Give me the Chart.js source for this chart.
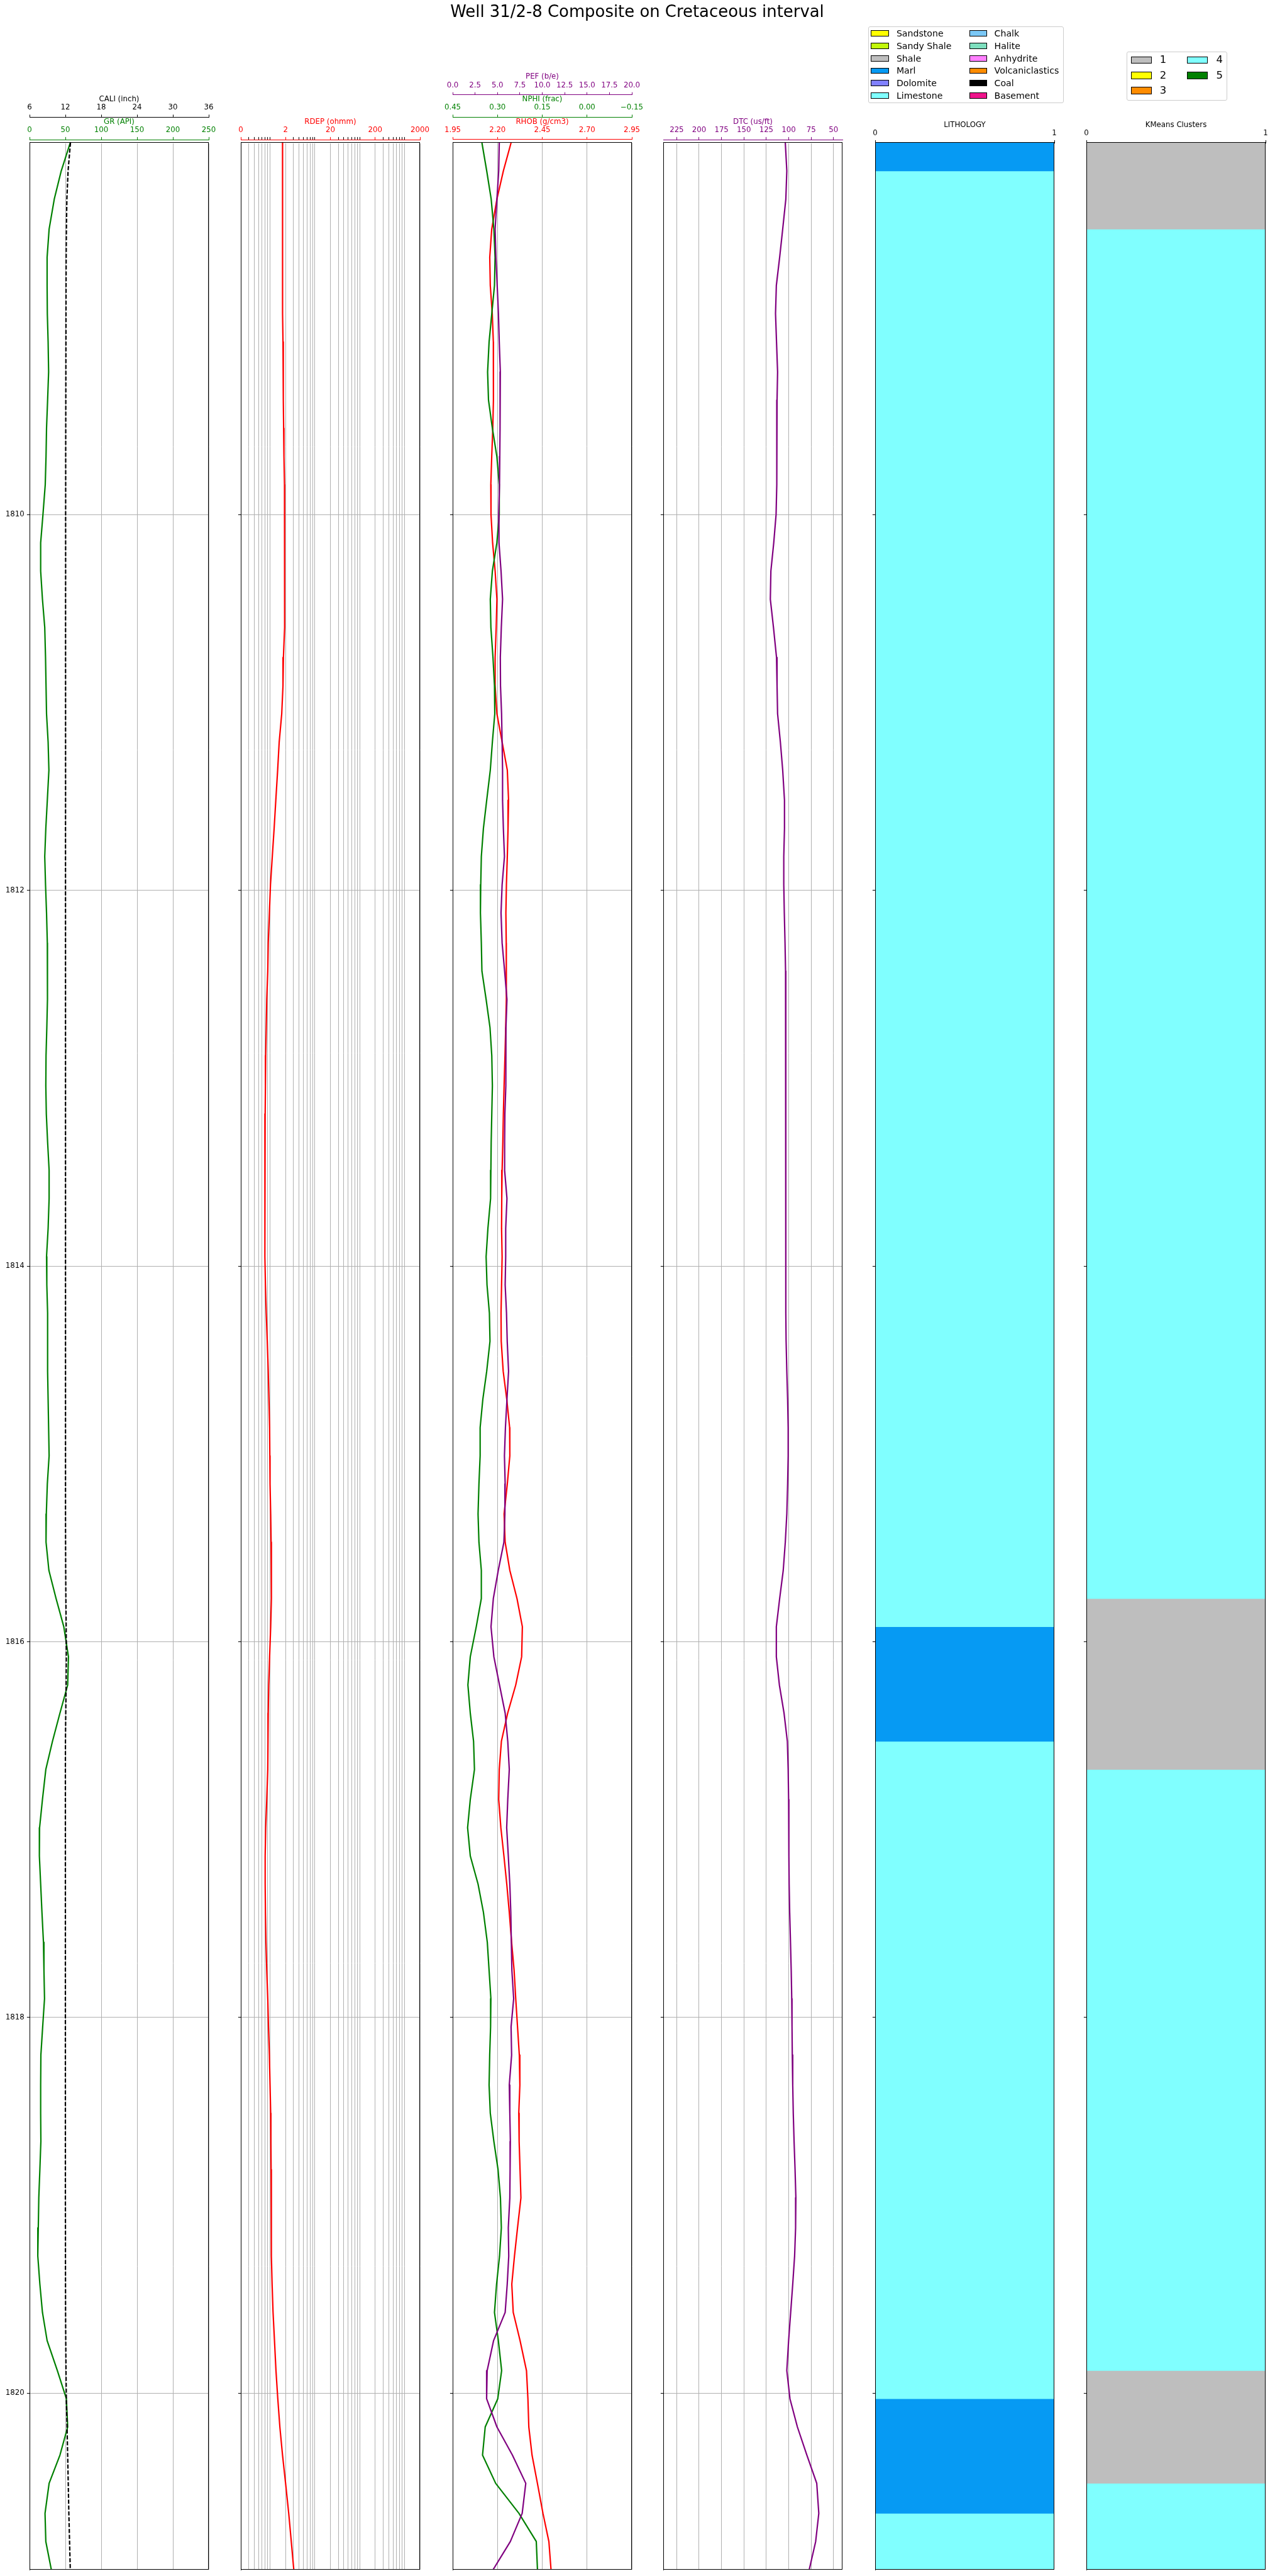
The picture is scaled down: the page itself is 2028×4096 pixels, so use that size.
<!DOCTYPE html>
<html>
<head>
<meta charset="utf-8">
<title>Well 31/2-8 Composite on Cretaceous interval</title>
<script src="https://cdn.jsdelivr.net/npm/chart.js@4.4.1/dist/chart.umd.min.js"></script>
<style>
  html, body { margin:0; padding:0; background:#fff; overflow:hidden; }
  #page { position:relative; width:2028px; height:4096px; overflow:hidden; background:#fff; font-family:'DejaVu Sans', sans-serif; color:#000; }
  #page canvas { position:absolute; top:0; }
  .txt { position:absolute; white-space:nowrap; line-height:1; font-family:'DejaVu Sans', sans-serif; color:#000; }
  .legend { position:absolute; box-sizing:border-box; border:1px solid #cccccc; border-radius:3px; background:rgba(255,255,255,0.8); }
  .patch { position:absolute; box-sizing:border-box; border:1px solid #000; }
</style>
</head>
<body>
<div id="page"></div>
<script>
// ---------------- DATA ----------------
const depth = [1808.02,1808.17,1808.32,1808.48,1808.63,1808.78,1808.93,1809.08,1809.24,1809.39,
  1809.54,1809.69,1809.84,1810.00,1810.15,1810.30,1810.45,1810.60,1810.76,1810.91,
  1811.06,1811.21,1811.36,1811.52,1811.67,1811.82,1811.97,1812.12,1812.28,1812.43,
  1812.58,1812.73,1812.88,1813.04,1813.19,1813.34,1813.49,1813.64,1813.80,1813.95,
  1814.10,1814.25,1814.40,1814.56,1814.71,1814.86,1815.01,1815.16,1815.32,1815.47,
  1815.62,1815.77,1815.92,1816.08,1816.23,1816.38,1816.53,1816.68,1816.84,1816.99,
  1817.14,1817.29,1817.44,1817.60,1817.75,1817.90,1818.05,1818.20,1818.36,1818.51,
  1818.66,1818.81,1818.96,1819.12,1819.27,1819.42,1819.57,1819.72,1819.88,1820.03,
  1820.18,1820.33,1820.48,1820.64,1820.79,1820.94];

const gr = [56.8,44.2,34.5,27.3,24.5,24.5,24.8,25.9,26.6,25.2,
  23.7,23.0,21.9,18.7,15.5,15.5,18.0,21.2,22.3,23.0,
  23.7,25.9,27.0,24.8,22.7,21.2,22.3,23.7,24.8,25.2,
  24.8,24.1,23.0,22.7,23.4,25.2,27.3,27.3,25.9,23.7,
  24.1,25.2,25.2,25.2,25.9,26.6,27.3,24.8,23.4,23.0,
  27.0,37.0,47.8,54.3,53.2,42.4,32.0,22.7,18.0,14.0,
  13.7,15.5,17.3,19.4,20.1,20.9,18.3,15.8,15.5,15.5,
  15.8,14.4,12.9,12.2,11.5,14.4,18.0,24.5,38.8,51.4,
  53.2,42.4,27.3,21.6,22.7,30.4];

const cali = [12.85,12.45,12.25,12.17,12.13,12.11,12.10,12.09,12.08,12.07,
  12.06,12.05,12.05,12.04,12.04,12.04,12.03,12.03,12.03,12.03,
  12.03,12.03,12.03,12.03,12.02,12.02,12.02,12.02,12.02,12.02,
  12.02,12.02,12.02,12.02,12.02,12.02,12.02,12.02,12.02,12.02,
  12.02,12.02,12.02,12.02,12.02,12.02,12.02,12.02,12.02,12.03,
  12.05,12.08,12.13,12.16,12.12,12.06,12.01,12.00,12.00,12.00,
  12.00,12.00,12.00,12.00,12.00,12.00,12.00,12.00,12.00,12.00,
  12.00,12.00,12.00,12.01,12.01,12.02,12.03,12.06,12.10,12.16,
  12.28,12.38,12.48,12.58,12.70,12.82];

const rdep = [1.71,1.71,1.71,1.71,1.71,1.71,1.73,1.75,1.77,1.79,
  1.81,1.84,1.89,1.92,1.92,1.92,1.89,1.87,1.79,1.75,
  1.64,1.44,1.33,1.21,1.11,1.01,0.92,0.87,0.82,0.80,
  0.76,0.74,0.72,0.71,0.70,0.69,0.69,0.69,0.69,0.69,
  0.71,0.74,0.78,0.82,0.85,0.88,0.89,0.90,0.93,0.95,
  0.97,0.96,0.93,0.88,0.84,0.82,0.81,0.80,0.76,0.72,
  0.70,0.70,0.71,0.73,0.76,0.80,0.83,0.87,0.90,0.93,
  0.94,0.95,0.96,0.96,0.97,1.00,1.05,1.13,1.22,1.34,
  1.49,1.71,2.00,2.35,2.68,3.05];

const rhob = [2.276,2.233,2.197,2.168,2.157,2.160,2.171,2.177,2.178,2.177,
  2.174,2.168,2.163,2.164,2.173,2.187,2.197,2.193,2.187,2.187,
  2.197,2.226,2.255,2.262,2.259,2.255,2.250,2.247,2.249,2.250,
  2.249,2.246,2.242,2.237,2.233,2.230,2.226,2.224,2.223,2.226,
  2.223,2.220,2.221,2.232,2.252,2.268,2.269,2.255,2.237,2.243,
  2.269,2.309,2.339,2.335,2.302,2.257,2.222,2.210,2.207,2.219,
  2.236,2.252,2.266,2.279,2.293,2.302,2.312,2.322,2.325,2.319,
  2.321,2.326,2.331,2.312,2.295,2.280,2.288,2.326,2.362,2.370,
  2.375,2.393,2.423,2.454,2.487,2.499];

const nphi = [0.352,0.336,0.321,0.312,0.308,0.310,0.319,0.328,0.333,0.330,
  0.317,0.302,0.294,0.294,0.302,0.317,0.324,0.322,0.315,0.310,
  0.309,0.317,0.324,0.336,0.347,0.354,0.356,0.357,0.354,0.352,
  0.338,0.325,0.319,0.317,0.319,0.321,0.322,0.323,0.332,0.338,
  0.335,0.327,0.325,0.336,0.349,0.358,0.358,0.362,0.365,0.362,
  0.354,0.354,0.371,0.391,0.399,0.391,0.380,0.377,0.391,0.400,
  0.391,0.365,0.347,0.334,0.328,0.322,0.323,0.326,0.328,0.324,
  0.312,0.298,0.290,0.287,0.293,0.303,0.310,0.297,0.286,0.299,
  0.341,0.350,0.306,0.228,0.170,0.166];

const pef = [5.20,5.14,4.94,4.74,4.83,4.97,5.11,5.20,5.32,5.29,
  5.29,5.26,5.23,5.14,5.17,5.40,5.57,5.43,5.32,5.34,
  5.46,5.52,5.57,5.57,5.66,5.78,5.52,5.40,5.52,5.80,
  6.06,5.95,5.95,5.92,5.83,5.80,5.80,6.06,5.92,5.92,
  5.86,6.01,6.09,6.24,6.06,5.89,5.78,5.86,5.83,5.72,
  5.09,4.54,4.28,4.60,5.23,5.86,6.15,6.32,6.15,6.03,
  6.21,6.38,6.49,6.55,6.61,6.81,6.52,6.58,6.32,6.38,
  6.44,6.41,6.38,6.21,6.26,6.09,5.86,4.57,3.85,3.79,
  4.94,6.67,8.16,7.76,6.44,4.51];

const dtc = [103.8,102.1,103.2,106.7,110.1,113.8,114.7,113.6,112.4,113.0,
  113.6,113.3,113.0,114.1,116.7,119.9,120.5,117.0,113.6,113.0,
  112.4,109.3,106.7,104.7,104.7,105.5,105.5,104.9,104.1,103.5,
  103.5,103.2,103.2,103.2,103.2,103.2,103.2,103.2,103.2,103.2,
  103.2,103.2,102.9,102.1,101.2,100.6,100.6,101.2,102.1,103.8,
  106.1,110.1,113.8,113.8,110.4,105.2,101.5,100.6,100.1,99.8,
  99.8,99.5,98.9,98.0,97.2,96.6,96.3,96.0,95.5,94.9,
  94.0,92.9,92.0,92.3,93.4,95.5,97.8,100.1,102.1,98.6,
  90.3,79.7,68.7,66.4,69.9,77.1];

// lithology intervals (top, base, name)
const lithTop  = [1808.02, 1808.17, 1815.92, 1816.53, 1820.03, 1820.64];
const lithBase = [1808.17, 1815.92, 1816.53, 1820.03, 1820.64, 1820.94];
const lithName = ['Marl', 'Limestone', 'Marl', 'Limestone', 'Marl', 'Limestone'];

// KMeans cluster intervals (top, base, cluster)
const kmTop     = [1808.02, 1808.48, 1815.77, 1816.68, 1819.88, 1820.48];
const kmBase    = [1808.48, 1815.77, 1816.68, 1819.88, 1820.48, 1820.94];
const kmCluster = ['1', '4', '1', '4', '1', '4'];

// tick values and labels
const depthTicks = [1810, 1812, 1814, 1816, 1818, 1820];
const depthTickLabels = ['1810', '1812', '1814', '1816', '1818', '1820'];
const grTicks = [0, 50, 100, 150, 200, 250];
const grTickLabels = ['0', '50', '100', '150', '200', '250'];
const caliTicks = [6, 12, 18, 24, 30, 36];
const caliTickLabels = ['6', '12', '18', '24', '30', '36'];
const rdepMajorTicks = [0.2, 2, 20, 200, 2000];
const rdepMajorLabels = ['0', '2', '20', '200', '2000'];
const rdepMinorTicks = [0.3,0.4,0.5,0.6,0.7,0.8,0.9, 3,4,5,6,7,8,9, 30,40,50,60,70,80,90, 300,400,500,600,700,800,900];
const rhobTicks = [1.95, 2.20, 2.45, 2.70, 2.95];
const rhobTickLabels = ['1.95', '2.20', '2.45', '2.70', '2.95'];
const nphiTicks = [0.45, 0.30, 0.15, 0.00, -0.15];
const nphiTickLabels = ['0.45', '0.30', '0.15', '0.00', '\u22120.15'];
const pefTicks = [0, 2.5, 5, 7.5, 10, 12.5, 15, 17.5, 20];
const pefTickLabels = ['0.0', '2.5', '5.0', '7.5', '10.0', '12.5', '15.0', '17.5', '20.0'];
const dtcTicks = [225, 200, 175, 150, 125, 100, 75, 50];
const dtcTickLabels = ['225', '200', '175', '150', '125', '100', '75', '50'];
const unitTicks = [0, 1];
const unitTickLabels = ['0', '1'];

const lithLegendNames = ['Sandstone', 'Sandy Shale', 'Shale', 'Marl', 'Dolomite', 'Limestone',
  'Chalk', 'Halite', 'Anhydrite', 'Volcaniclastics', 'Coal', 'Basement'];
const clusterLegendNames = ['1', '2', '3', '4', '5'];

// ---------------- STYLE / LAYOUT ----------------
const LITH_COLORS = {
  'Sandstone': '#ffff00', 'Sandy Shale': '#c1f80a', 'Shale': '#bebebe', 'Marl': '#069af3',
  'Dolomite': '#8080ff', 'Limestone': '#80ffff', 'Chalk': '#7bc8f6', 'Halite': '#7ddfbe',
  'Anhydrite': '#ff80ff', 'Volcaniclastics': '#ff8c00', 'Coal': '#000000', 'Basement': '#ef138a'
};
const CLUSTER_COLORS = {'1': '#bebebe', '2': '#ffff00', '3': '#ff8c00', '4': '#80ffff', '5': '#008000'};

const FAMILY = "'DejaVu Sans', sans-serif";
const TICK_FONT = {family: FAMILY, size: 11.78, lineHeight: 1.2};
const GRID = '#b0b0b0';
const GREEN = '#008000', RED = '#ff0000', PURPLE = '#800080', BLACK = '#000000';
const TICK_LEN = 4.1, TICK_PAD = 4.1, AX_H = 35.6, GAP_H = 5;
const CHART_TOP = 227, CHART_BOTTOM = 4086;
const TRACK_LEFT = [47, 383, 720, 1055, 1392, 1728], TRACK_W = 285;
const PAD_SIDE = 40, PAD_BOTTOM = 14;
const LINE_W = 2.2;

const page = document.getElementById('page');
const depthMin = Math.min(...depth), depthMax = Math.max(...depth);

const framePlugin = {
  id: 'frame',
  afterDatasetsDraw(chart) {
    const a = chart.chartArea, ctx = chart.ctx;
    ctx.save();
    ctx.strokeStyle = BLACK;
    ctx.lineWidth = 1;
    const l = Math.round(a.left) + 0.5, t = Math.round(a.top) - 0.5;
    const r = Math.round(a.right) - 0.5, b = Math.round(a.bottom) - 0.5;
    ctx.strokeRect(l, t, r - l, b - t);
    ctx.restore();
  }
};

function depthAxis(showLabels, yW) {
  return {
    type: 'linear', axis: 'y', position: 'left', reverse: true, bounds: 'data',
    min: depthMin, max: depthMax, beginAtZero: false,
    afterBuildTicks: s => { s.ticks = depthTicks.map(v => ({value: v})); },
    afterFit: s => { s.width = yW; },
    grid: {display: true, drawOnChartArea: true, drawTicks: true, color: GRID, lineWidth: 1,
           tickLength: TICK_LEN, tickColor: BLACK, tickWidth: 1},
    border: {display: true, color: BLACK, width: 1},
    ticks: {display: showLabels, padding: TICK_PAD, color: BLACK, font: TICK_FONT,
            autoSkip: false, callback: (v, i) => depthTickLabels[i]}
  };
}

function spacerAxis() {
  return {
    type: 'linear', axis: 'x', position: 'top', weight: 0, display: true, min: 0, max: 1,
    grid: {display: false}, border: {display: false}, ticks: {display: false}, title: {display: false},
    afterFit: s => { s.height = GAP_H; }
  };
}

function curveAxis(o) {
  return {
    type: o.type || 'linear', axis: 'x', position: 'top', weight: o.weight, offset: false,
    min: o.min, max: o.max, reverse: !!o.reverse, bounds: 'data', beginAtZero: false,
    afterBuildTicks: s => { s.ticks = o.ticks.map(v => ({value: v})); },
    afterFit: s => { s.height = AX_H; },
    grid: {display: true, drawOnChartArea: !!o.grid, drawTicks: true, tickLength: TICK_LEN,
           color: GRID, lineWidth: 1, tickColor: o.tickColor || o.color, tickWidth: 1, offset: false},
    border: {display: true, color: o.color, width: 1},
    ticks: {display: true, autoSkip: false, maxRotation: 0, minRotation: 0, padding: TICK_PAD,
            color: o.color, font: TICK_FONT, callback: o.callback || ((v, i) => o.labels[i])},
    title: {display: true, text: o.title, color: o.color, font: TICK_FONT, padding: 0}
  };
}

function curve(values, axisId, color, dash) {
  return {
    data: depth.map((d, i) => ({x: values[i], y: d})),
    xAxisID: axisId, yAxisID: 'y', showLine: true,
    borderColor: color, backgroundColor: color, borderWidth: LINE_W,
    borderDash: dash || [], borderJoinStyle: 'round',
    pointRadius: 0, pointHoverRadius: 0, fill: false, tension: 0
  };
}

function makeCanvas(idx) {
  const c = document.createElement('canvas');
  const w = PAD_SIDE * 2 + TRACK_W, h = CHART_BOTTOM + PAD_BOTTOM;
  c.width = w; c.height = h;
  c.style.left = (TRACK_LEFT[idx] - PAD_SIDE) + 'px';
  c.style.width = w + 'px'; c.style.height = h + 'px';
  page.appendChild(c);
  return c;
}

function buildTrack(idx, cfg) {
  const yW = cfg.depthLabels ? 38 : 10;
  const scales = Object.assign({y: depthAxis(!!cfg.depthLabels, yW)}, cfg.scales);
  return new Chart(makeCanvas(idx), {
    type: cfg.type,
    data: {labels: cfg.labels, datasets: cfg.datasets},
    options: {
      responsive: false, maintainAspectRatio: false, animation: false, devicePixelRatio: 1,
      events: [],
      layout: {padding: {left: PAD_SIDE - yW, right: PAD_SIDE, top: CHART_TOP - cfg.headerHeight, bottom: PAD_BOTTOM}, autoPadding: false},
      plugins: {legend: {display: false}, tooltip: {enabled: false}, title: {display: false}},
      scales
    },
    plugins: [framePlugin]
  });
}

// ---------------- TRACK 1 : GR + CALI ----------------
buildTrack(0, {
  type: 'scatter', depthLabels: true, headerHeight: GAP_H + 2 * AX_H,
  scales: {
    pad: spacerAxis(),
    gr: curveAxis({weight: 1, min: 0, max: 250, ticks: grTicks, labels: grTickLabels, color: GREEN, title: 'GR (API)', grid: true}),
    cali: curveAxis({weight: 2, min: 6, max: 36, ticks: caliTicks, labels: caliTickLabels, color: BLACK, title: 'CALI (inch)', grid: false})
  },
  datasets: [curve(cali, 'cali', BLACK, [6.5, 2.8]), curve(gr, 'gr', GREEN)]
});

// ---------------- TRACK 2 : RDEP ----------------
const rdepAllTicks = rdepMajorTicks.concat(rdepMinorTicks).sort((a, b) => a - b);
buildTrack(1, {
  type: 'scatter', headerHeight: GAP_H + AX_H,
  scales: {
    pad: spacerAxis(),
    rdep: curveAxis({type: 'logarithmic', weight: 1, min: 0.2, max: 2000, ticks: rdepAllTicks, color: RED,
      title: 'RDEP (ohmm)', grid: true,
      tickColor: ctx => (ctx.tick && rdepMajorTicks.indexOf(ctx.tick.value) >= 0) ? RED : BLACK,
      callback: v => { const k = rdepMajorTicks.indexOf(v); return k >= 0 ? rdepMajorLabels[k] : ''; }})
  },
  datasets: [curve(rdep, 'rdep', RED)]
});

// ---------------- TRACK 3 : RHOB + NPHI + PEF ----------------
buildTrack(2, {
  type: 'scatter', headerHeight: GAP_H + 3 * AX_H,
  scales: {
    pad: spacerAxis(),
    rhob: curveAxis({weight: 1, min: 1.95, max: 2.95, ticks: rhobTicks, labels: rhobTickLabels, color: RED, title: 'RHOB (g/cm3)', grid: true}),
    nphi: curveAxis({weight: 2, min: -0.15, max: 0.45, reverse: true, ticks: nphiTicks, labels: nphiTickLabels, color: GREEN, title: 'NPHI (frac)', grid: false}),
    pef: curveAxis({weight: 3, min: 0, max: 20, ticks: pefTicks, labels: pefTickLabels, color: PURPLE, title: 'PEF (b/e)', grid: false})
  },
  datasets: [curve(pef, 'pef', PURPLE), curve(nphi, 'nphi', GREEN), curve(rhob, 'rhob', RED)]
});

// ---------------- TRACK 4 : DTC ----------------
buildTrack(3, {
  type: 'scatter', headerHeight: GAP_H + AX_H,
  scales: {
    pad: spacerAxis(),
    dtc: curveAxis({weight: 1, min: 40, max: 240, reverse: true, ticks: dtcTicks, labels: dtcTickLabels, color: PURPLE, title: 'DTC (us/ft)', grid: true})
  },
  datasets: [curve(dtc, 'dtc', PURPLE)]
});

// ---------------- TRACKS 5-6 : interval columns ----------------
function intervalBars(tops, bases, classes, colors, category) {
  return tops.map((t, i) => ({
    data: [{x: category, y: [t, bases[i]]}],
    xAxisID: 'cx', yAxisID: 'y', grouped: false,
    barPercentage: 1, categoryPercentage: 1, borderWidth: 0,
    backgroundColor: colors[classes[i]]
  }));
}
function columnScales(title) {
  return {
    cx: {type: 'category', axis: 'x', position: 'bottom', display: false, offset: true},
    lx: curveAxis({weight: 1, min: 0, max: 1, ticks: unitTicks, labels: unitTickLabels, color: BLACK, title: title, grid: false})
  };
}
buildTrack(4, {
  type: 'bar', headerHeight: AX_H, labels: ['LITHOLOGY'],
  scales: columnScales('LITHOLOGY'),
  datasets: intervalBars(lithTop, lithBase, lithName, LITH_COLORS, 'LITHOLOGY')
});
buildTrack(5, {
  type: 'bar', headerHeight: AX_H, labels: ['KMeans Clusters'],
  scales: columnScales('KMeans Clusters'),
  datasets: intervalBars(kmTop, kmBase, kmCluster, CLUSTER_COLORS, 'KMeans Clusters')
});

// ---------------- TITLE & LEGENDS (HTML text) ----------------
function addText(str, x, baseline, size, center) {
  const d = document.createElement('div');
  d.className = 'txt';
  d.textContent = str;
  d.style.fontSize = size + 'px';
  d.style.top = (baseline - 0.846 * size) + 'px';
  if (center) { d.style.left = '0px'; d.style.width = '2027px'; d.style.textAlign = 'center'; }
  else d.style.left = x + 'px';
  page.appendChild(d);
  return d;
}
addText('Well 31/2-8 Composite on Cretaceous interval', 0, 28.2, 25.9, true);

function addLegend(L) {
  const box = document.createElement('div');
  box.className = 'legend';
  box.style.left = L.box[0] + 'px'; box.style.top = L.box[1] + 'px';
  box.style.width = L.box[2] + 'px'; box.style.height = L.box[3] + 'px';
  page.appendChild(box);
  L.names.forEach((name, i) => {
    const col = Math.floor(i / L.rows), row = i % L.rows;
    const base = L.baseline0 + row * L.pitch;
    const p = document.createElement('div');
    p.className = 'patch';
    p.style.left = L.patchX[col] + 'px';
    p.style.top = (base - L.patchH) + 'px';
    p.style.width = L.patchW + 'px';
    p.style.height = L.patchH + 'px';
    p.style.background = L.colors[name];
    page.appendChild(p);
    addText(name, L.textX[col], base, L.size, false);
  });
}
addLegend({names: lithLegendNames, colors: LITH_COLORS, rows: 6,
  box: [1381.1, 41.8, 311, 122.7], baseline0: 57.9, pitch: 19.84,
  patchX: [1385.4, 1541.5], textX: [1425.9, 1581.6], patchW: 28.3, patchH: 9.9, size: 14.13});
addLegend({names: clusterLegendNames, colors: CLUSTER_COLORS, rows: 3,
  box: [1791.9, 82.0, 159.7, 77.7], baseline0: 101.2, pitch: 24.3,
  patchX: [1798.5, 1888.2], textX: [1844.8, 1934.5], patchW: 33.0, patchH: 11.5, size: 16.49});
</script>
</body>
</html>
